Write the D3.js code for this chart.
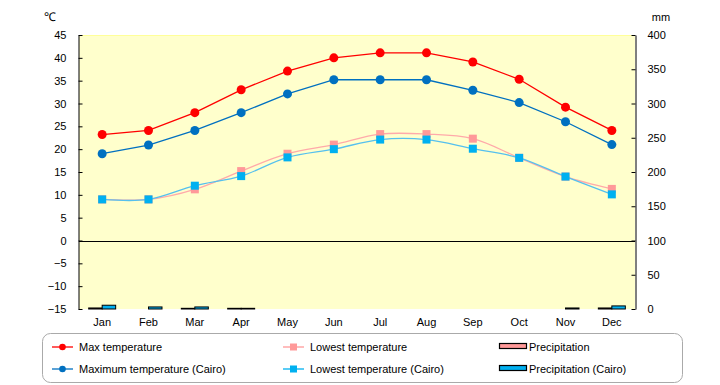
<!DOCTYPE html>
<html>
<head>
<meta charset="utf-8">
<script src="https://cdn.jsdelivr.net/npm/d3@7"></script>
<style>
  body { margin: 0; background: #fff; }
  svg { font-family: "Liberation Sans", Arial, sans-serif; }
</style>
</head>
<body>
<svg id="chart" width="720" height="385"></svg>
<script>
// data
const months = ["Jan","Feb","Mar","Apr","May","Jun","Jul","Aug","Sep","Oct","Nov","Dec"];
const maxTemp      = [23.2, 24.1, 28.0, 33.0, 37.1, 40.0, 41.1, 41.1, 39.1, 35.3, 29.2, 24.1];
const maxTempCairo = [19.0, 20.9, 24.1, 28.0, 32.1, 35.2, 35.2, 35.2, 32.9, 30.2, 26.0, 21.0];
const lowTemp      = [9.0, 9.0, 11.2, 15.2, 19.0, 21.0, 23.3, 23.3, 22.3, 18.1, 14.0, 11.3];
const lowTempCairo = [9.0, 9.0, 12.0, 14.1, 18.2, 20.0, 22.1, 22.1, 20.1, 18.1, 14.0, 10.1];
const precip       = [1.5, 0, 1, 1, 0, null, null, null, null, 0, 0, 1.5];
const precipCairo  = [5.5, 3, 3, 1, null, null, null, null, null, null, 1.5, 4.5];
const tempTicks = [-15,-10,-5,0,5,10,15,20,25,30,35,40,45];
const mmTicks = [0,50,100,150,200,250,300,350,400];

(function(){
  const W = 720, H = 385;
  const MARGIN = { top: 35, right: 85, bottom: 76, left: 79 };
  const width = W - MARGIN.left - MARGIN.right;
  const height = H - MARGIN.top - MARGIN.bottom;

  const svg = d3.select("#chart");
  const g = svg.append("g").attr("transform", "translate(" + MARGIN.left + "," + MARGIN.top + ")");

  const x = d3.scaleBand().domain(months).range([0, width]);
  const y = d3.scaleLinear().domain([-15, 45]).range([height, 0]);
  const y2 = d3.scaleLinear().domain([0, 400]).range([height, 0]);
  const cx = function(m){ return x(m) + x.bandwidth() / 2; };

  // plot background
  g.append("rect")
    .attr("width", width).attr("height", height)
    .attr("fill", "#ffffcc");
  g.append("line")
    .attr("x1", 0).attr("x2", width).attr("y1", 0.5).attr("y2", 0.5)
    .attr("stroke", "#ffff99");

  // bars
  const barW = 13.5;
  const barSeries = [
    { vals: precip, color: "#ff9999", off: -barW },
    { vals: precipCairo, color: "#00b0f0", off: 0 }
  ];
  barSeries.forEach(function(s){
    g.selectAll(null)
      .data(months.map(function(m, i){ return { m: m, v: s.vals[i] }; }).filter(function(d){ return d.v !== null; }))
      .enter().append("rect")
      .attr("x", function(d){ return cx(d.m) + s.off; })
      .attr("y", function(d){ return y2(d.v); })
      .attr("width", barW)
      .attr("height", function(d){ return height - y2(d.v); })
      .attr("fill", s.color)
      .attr("stroke", "#000")
      .attr("stroke-width", 1);
  });

  // zero line
  g.append("line")
    .attr("x1", 0).attr("x2", width)
    .attr("y1", Math.round(y(0)) + 0.5).attr("y2", Math.round(y(0)) + 0.5)
    .attr("stroke", "#000");

  // axes
  const leftAxis = g.append("g")
    .attr("transform", "translate(-0.5,0)")
    .call(d3.axisLeft(y).tickValues(tempTicks).tickSizeInner(-4).tickSizeOuter(0).tickPadding(12));
  const rightAxis = g.append("g")
    .attr("transform", "translate(" + (width + 0.5) + ",0)")
    .call(d3.axisRight(y2).tickValues(mmTicks).tickSizeInner(-4).tickSizeOuter(0).tickPadding(12));
  [leftAxis, rightAxis].forEach(function(a){
    a.select(".domain").attr("stroke", "#000");
    a.selectAll(".tick line").attr("stroke", "#000");
    a.selectAll(".tick text").attr("font-size", 11).attr("fill", "#000")
      .attr("font-family", "Liberation Sans, Arial, sans-serif");
  });

  // month labels
  g.selectAll(".mlabel")
    .data(months).enter().append("text")
    .attr("x", cx).attr("y", height + 17)
    .attr("text-anchor", "middle").attr("font-size", 11)
    .text(function(d){ return d; });

  // unit labels
  svg.append("text").attr("x", 50).attr("y", 21).attr("font-size", 12).attr("text-anchor", "middle").text("℃");
  svg.append("text").attr("x", 661).attr("y", 21).attr("font-size", 11).attr("text-anchor", "middle").text("mm");

  // lines: max temperatures straight, lowest temperatures smoothed
  const straight = d3.line()
    .x(function(d){ return cx(d.m); })
    .y(function(d){ return y(d.v); });
  const smooth = d3.line()
    .x(function(d){ return cx(d.m); })
    .y(function(d){ return y(d.v); })
    .curve(d3.curveCatmullRom.alpha(0.5));
  const lineSeries = [
    { vals: lowTemp, color: "#ff9999", stroke: "#ffaaaa", shape: "square", gen: smooth },
    { vals: lowTempCairo, color: "#00b0f0", stroke: "#55c0ee", shape: "square", gen: smooth },
    { vals: maxTempCairo, color: "#0070c0", stroke: "#0070c0", shape: "circle", gen: straight },
    { vals: maxTemp, color: "#ff0000", stroke: "#ff0000", shape: "circle", gen: straight }
  ];
  lineSeries.forEach(function(s){
    const data = months.map(function(m, i){ return { m: m, v: s.vals[i] }; });
    g.append("path").datum(data)
      .attr("fill", "none")
      .attr("stroke", s.stroke)
      .attr("stroke-width", 1.3)
      .attr("d", s.gen);
    if (s.shape === "circle") {
      g.selectAll(null).data(data).enter().append("circle")
        .attr("cx", function(d){ return cx(d.m); })
        .attr("cy", function(d){ return y(d.v); })
        .attr("r", 4.5)
        .attr("fill", s.color);
    } else {
      g.selectAll(null).data(data).enter().append("rect")
        .attr("x", function(d){ return cx(d.m) - 4; })
        .attr("y", function(d){ return y(d.v) - 4; })
        .attr("width", 8).attr("height", 8)
        .attr("fill", s.color);
    }
  });

  // legend
  const legend = svg.append("g");
  legend.append("rect")
    .attr("x", 42.5).attr("y", 333.5).attr("width", 640).attr("height", 49).attr("rx", 8)
    .attr("fill", "#fff").attr("stroke", "#aaaaaa");
  const legendItems = [
    { label: "Max temperature", type: "circle", color: "#ff0000", x: 52, y: 347 },
    { label: "Maximum temperature (Cairo)", type: "circle", color: "#0070c0", x: 52, y: 369 },
    { label: "Lowest temperature", type: "square", color: "#ff9999", x: 283, y: 347 },
    { label: "Lowest temperature (Cairo)", type: "square", color: "#00b0f0", x: 283, y: 369 },
    { label: "Precipitation", type: "bar", color: "#ff9999", x: 499, y: 347 },
    { label: "Precipitation (Cairo)", type: "bar", color: "#00b0f0", x: 499, y: 369 }
  ];
  legendItems.forEach(function(it){
    if (it.type === "bar") {
      legend.append("rect")
        .attr("x", it.x + 0.5).attr("y", it.y - 3.5).attr("width", 27).attr("height", 5)
        .attr("fill", it.color).attr("stroke", "#000").attr("stroke-width", 1.2);
      legend.append("text").attr("x", it.x + 30).attr("y", it.y + 4).attr("font-size", 11).text(it.label);
    } else {
      legend.append("line")
        .attr("x1", it.x).attr("x2", it.x + 21).attr("y1", it.y).attr("y2", it.y)
        .attr("stroke", it.color).attr("stroke-width", 1.3);
      if (it.type === "circle") {
        legend.append("circle").attr("cx", it.x + 10.5).attr("cy", it.y).attr("r", 3.3).attr("fill", it.color);
      } else {
        legend.append("rect").attr("x", it.x + 7).attr("y", it.y - 3.5).attr("width", 7).attr("height", 7).attr("fill", it.color);
      }
      legend.append("text").attr("x", it.x + 27).attr("y", it.y + 4).attr("font-size", 11).text(it.label);
    }
  });
})();
</script>
</body>
</html>
